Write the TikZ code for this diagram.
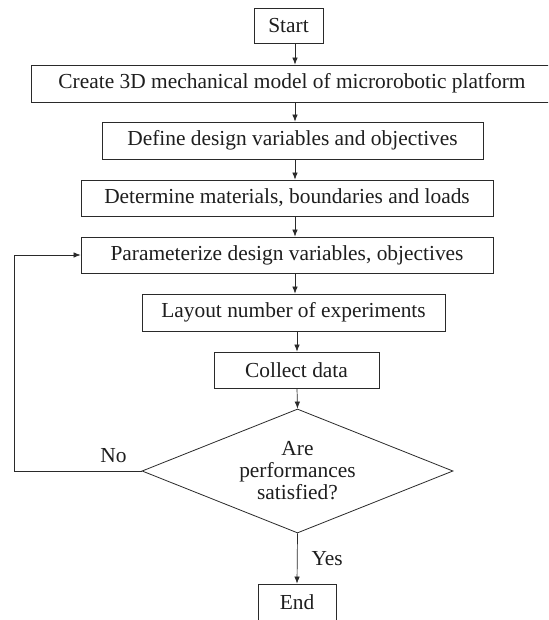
\documentclass[tikz,border=0pt]{standalone}
\usepackage{fontspec}
\setmainfont{Liberation Serif}
\usepackage{tikz}
\usetikzlibrary{positioning, arrows.meta, shapes.geometric}
\definecolor{fcLine}{HTML}{2A2A2A}
\definecolor{fcInk}{HTML}{1E1E1E}

\begin{document}
\begin{tikzpicture}[x=1pt, y=-1pt, font=\fontsize{21.4}{22}\selectfont, text=fcInk,
  stepbox/.style={draw=fcLine, line width=0.8pt, inner sep=0pt, minimum height=36pt},
  decide/.style={diamond, draw=fcLine, line width=0.8pt, inner sep=0pt, align=center,
    shape aspect=2.5, minimum width=311pt, minimum height=124pt},
  flow/.style={draw=fcLine, line width=0.7pt, -{Latex[length=7pt, width=5.5pt]}},
  tag/.style={inner sep=0pt}]
  \useasboundingbox (0,0) rectangle (548,620);
  \clip (0,0) rectangle (548,620);
  \fill[white] (0,0) rectangle (548,620);
  \node[stepbox, minimum width=69pt, minimum height=35pt] (start) at (288.5,25.5) {Start};
  \node[stepbox, minimum width=522pt, minimum height=37pt] (create) at (292,83.5)
    {Create 3D mechanical model of microrobotic platform};
  \node[stepbox, minimum width=381pt, minimum height=37pt] (define) at (292.5,140.5)
    {Define design variables and objectives};
  \node[stepbox, minimum width=412pt] (determine) at (287,198)
    {Determine materials, boundaries and loads};
  \node[stepbox, minimum width=412pt] (param) at (287,255)
    {Parameterize design variables, objectives};
  \node[stepbox, minimum width=303pt, minimum height=37pt] (layout) at (293.5,312.5)
    {Layout number of experiments};
  \node[stepbox, minimum width=165pt] (collect) at (296.5,370) {Collect data};
  \node[decide] (check) at (297.5,471) {Are\\performances\\satisfied?};
  \node[stepbox, minimum width=78pt, minimum height=37pt] (stop) at (297,602.5) {End};
  \coordinate (spineA) at (295,0);
  \coordinate (spineB) at (297,0);
  \coordinate (back) at (14,0);
  % main column
  \draw[flow] (start.south -| spineA) -- (create.north -| spineA);
  \draw[flow] (create.south -| spineA) -- (define.north -| spineA);
  \draw[flow] (define.south -| spineA) -- (determine.north -| spineA);
  \draw[flow] (determine.south -| spineA) -- (param.north -| spineA);
  \draw[flow] (param.south -| spineA) -- (layout.north -| spineA);
  \draw[flow] (layout.south -| spineB) -- (collect.north -| spineB);
  \draw[flow] (collect.south -| spineB) -- (check.north);
  \draw[flow] (check.south) -- node[tag, right=14pt] (yeslbl) {Yes} (stop.north);
  % loop back
  \draw[flow] (check.west) -- node[tag, pos=0.22, above=8pt] (nolbl) {No}
    (check.west -| back) |- (param.west);
\end{tikzpicture}
\end{document}
